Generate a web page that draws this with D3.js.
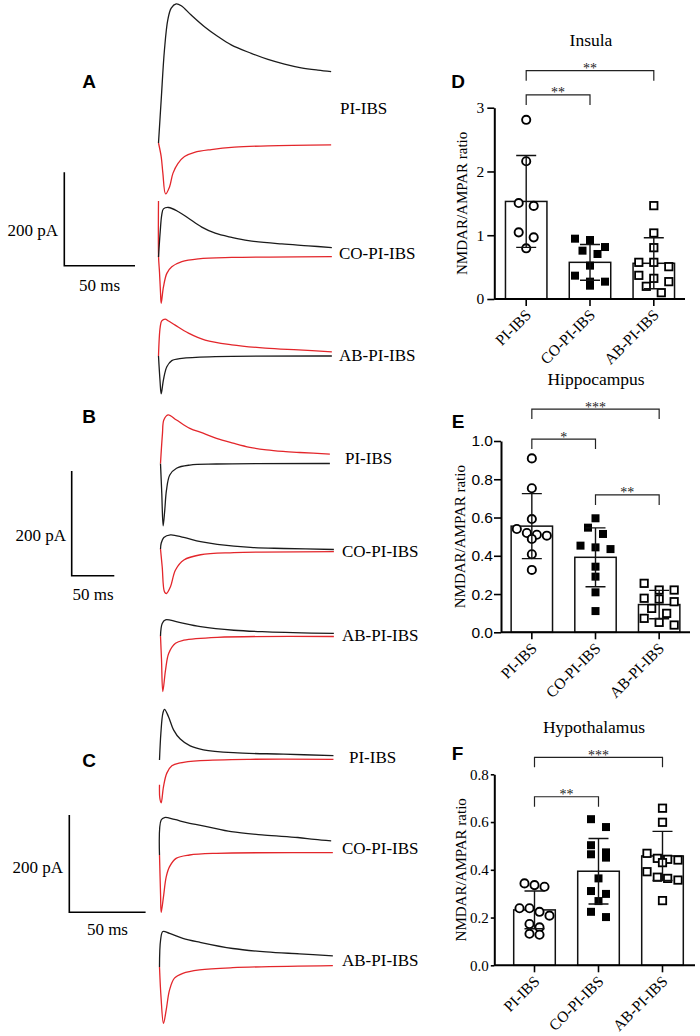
<!DOCTYPE html>
<html lang="en">

<head>
    <meta charset="utf-8" />
    <title>NMDAR/AMPAR ratio</title>
    <script src="https://d3js.org/d3.v7.min.js"></script>
    <style>
        body {
            margin: 0;
            background: #fff;
        }

        .letter {
            font-family: "Liberation Sans", Arial, sans-serif;
            font-weight: bold;
            font-size: 19px;
        }
    </style>
</head>

<body>
    <script>
        // ---------- data ----------
        const groups = ["PI-IBS", "CO-PI-IBS", "AB-PI-IBS"];

        // traces: [time (ms), current (pA)]
        const piA_up = [[0, 0], [1.9, 92], [4.2, 199], [6.6, 264], [9.0, 289], [12.5, 298], [16.1, 294], [23.1, 274], [32.5, 249], [42, 228], [51.4, 210], [65.6, 192], [77.4, 179], [89.1, 169], [100.9, 161], [112.7, 156], [122.1, 153]];
        const piA_down = [[0, 0], [1.9, -29], [3.1, -65], [5.0, -109], [7.8, -94], [10.2, -65], [13.7, -44], [18.4, -29], [25.5, -20], [37.3, -14], [53.7, -9], [77.4, -6], [122.1, -4]];
        const coA_up = [[0, 0], [1.2, 54], [2.3, 90], [3.5, 103], [7.1, 106], [14.1, 97], [21.2, 83], [30.6, 64], [40.1, 51], [51.8, 42], [63.6, 35], [87.2, 28], [106, 24], [122.6, 20]];
        const coA_down = [[0, 120], [0.05, 0], [0.7, -32], [1.4, -75], [1.9, -99], [3.5, -64], [5.9, -35], [9.4, -21], [16.5, -10], [28.3, -4], [51.8, -1], [122.6, 1]];
        const abA_up = [[0, 0], [1.2, 62], [2.3, 75], [4.7, 79], [7.1, 75], [11.8, 66], [21.2, 49], [33, 34], [51.8, 24], [75.5, 17], [99, 13], [122.6, 9]];
        const abA_down = [[0, 0], [1.1, -54], [1.9, -81], [3.5, -51], [5.9, -23], [9.4, -10], [16.5, -5], [40.1, -1.5], [122.6, 0]];

        const piB_up = [[0, 0], [2.3, 57], [3.9, 83], [8.9, 93], [18.8, 83], [34.4, 67], [50, 58], [65.7, 48], [85.2, 39], [104.8, 31], [124.4, 26], [143.9, 23], [163.5, 21], [198.8, 18]];
        const piB_down = [[0, 0], [1.5, -57], [3.1, -119], [5.0, -89], [7.0, -51], [10.9, -22], [18.8, -9], [34.4, -3], [65.7, -1], [198.8, 0]];
        const coB_up = [[0, 0], [0.8, 11], [3.9, 22], [11.7, 27], [27.4, 22], [47, 14], [66.6, 9], [105.7, 3], [144.8, 1], [203.5, -1]];
        const coB_down = [[0, 0], [2, -34], [4.7, -82], [7, -85], [11.7, -72], [17.6, -40], [27.4, -21], [47, -11], [86.1, -7], [203.5, -5]];
        const abB_up = [[0, 0], [2, 24], [5.9, 31], [19.6, 27], [47, 18], [86.1, 11], [125.3, 8], [203.5, 5]];
        const abB_down = [[0, 0], [1.2, -46], [2.7, -106], [5.9, -65], [9.7, -33], [17.6, -14], [27.4, -8], [66.6, -2.5], [203.5, -1]];

        const piC_up = [[0, 0], [0.9, 55], [2.2, 96], [3.3, 104], [5.9, 89], [9.2, 62], [13.6, 43], [20.1, 29], [28.8, 21], [48.5, 15], [81.3, 12], [114, 9]];
        const piC_down = [[0, -51], [0.2, -78], [1.1, -88], [2.6, -55], [4.8, -27], [8.1, -12], [13.6, -6], [26.7, -1.4], [59.4, 1.4], [114, 1.4]];
        const coC_up = [[0, 0], [1.1, 72], [3.3, 77], [9.8, 73], [18.5, 66], [31.7, 58], [47, 48], [68.8, 41], [90.6, 36], [101.6, 32], [112.5, 29]];
        const coC_down = [[0, 0], [0.7, -82], [1.1, -118], [2.6, -86], [4.4, -45], [6.6, -24], [10.9, -7], [19.7, 0], [37.2, 3.5], [113.6, 4.7]];
        const abC_up = [[0, 0], [0.7, 55], [2.2, 73], [6.6, 69], [15.3, 59], [26.2, 51], [48, 38], [69.9, 31], [91.7, 27], [113.6, 23]];
        const abC_down = [[0, 0], [1, -62], [2.6, -116], [4.4, -88], [6.6, -47], [9.8, -23], [15.3, -13], [26.2, -6], [48, -1.4], [113.6, 2.7]];

        // NMDAR/AMPAR ratio, individual cells
        const insulaPI = [2.81, 2.16, 1.505, 1.46, 1.045, 0.967, 0.795];
        const insulaCO = [0.946, 0.925, 0.815, 0.758, 0.706, 0.523, 0.366, 0.272, 0.272, 0.209];
        const insulaAB = [1.464, 1.035, 0.805, 0.575, 0.575, 0.507, 0.371, 0.324, 0.272, 0.199, 0.099];
        const insulaMean = [1.53, 0.575, 0.56];
        const insulaSD = [0.72, 0.28, 0.40];

        const hippoPI = [0.909, 0.753, 0.592, 0.540, 0.519, 0.510, 0.505, 0.488, 0.408, 0.326];
        const hippoCO = [0.596, 0.547, 0.514, 0.453, 0.444, 0.435, 0.343, 0.291, 0.209, 0.111];
        const hippoAB = [0.256, 0.221, 0.221, 0.178, 0.174, 0.160, 0.125, 0.099, 0.073, 0.052, 0.038];
        const hippoMean = [0.555, 0.392, 0.145];
        const hippoSD = [0.17, 0.154, 0.074];

        const hypoPI = [0.343, 0.336, 0.329, 0.239, 0.239, 0.224, 0.208, 0.173, 0.159, 0.132, 0.128];
        const hypoCO = [0.612, 0.579, 0.503, 0.473, 0.465, 0.451, 0.364, 0.311, 0.299, 0.269, 0.224, 0.202];
        const hypoAB = [0.658, 0.599, 0.469, 0.448, 0.444, 0.441, 0.430, 0.392, 0.369, 0.364, 0.357, 0.271];
        const hypoMean = [0.232, 0.394, 0.458];
        const hypoSD = [0.079, 0.137, 0.103];

        // significance brackets: [from group, to group, level, stars]
        const insulaSig = [[0, 2, 3.58, "**"], [0, 1, 3.2, "**"]];
        const hippoSig = [[0, 2, 1.167, "***"], [0, 1, 1.01, "*"], [1, 2, 0.718, "**"]];
        const hypoSig = [[0, 2, 0.871, "***"], [0, 1, 0.706, "**"]];

        // ---------- drawing ----------
        const BLACK = "#1b1b1b";
        const RED = "#e3262b";
        const SERIF = '"Liberation Serif", "Times New Roman", serif';
        const SANS = '"Liberation Sans", Arial, sans-serif';

        const svg = d3.select("body").append("svg")
            .attr("width", 700)
            .attr("height", 1036);

        const line = d3.line().curve(d3.curveCatmullRom.alpha(0.5));

        // layout of the three trace panels
        const tracePanels = [
            {
                letter: "A", lx: 89, ly: 88, x0: 158.5, msLen: 70.7, paLen: 93.4,
                bar: { x: 64.3, y: 265.7, paX: 58, paY: 230, msY: 285 },
                pairs: [
                    { base: 143, up: piA_up, upC: BLACK, down: piA_down, downC: RED, label: groups[0], tx: 340, ty: 108 },
                    { base: 257, up: coA_up, upC: BLACK, down: coA_down, downC: RED, label: groups[1], tx: 339, ty: 253 },
                    { base: 356, up: abA_up, upC: RED, down: abA_down, downC: BLACK, label: groups[2], tx: 339, ty: 355 }
                ]
            },
            {
                letter: "B", lx: 89, ly: 423, x0: 160.5, msLen: 42.6, paLen: 104.7,
                bar: { x: 71.7, y: 575.7, paX: 66, paY: 535, msY: 594 },
                pairs: [
                    { base: 463.5, up: piB_up, upC: RED, down: piB_down, downC: BLACK, label: groups[0], tx: 345, ty: 458 },
                    { base: 549, up: coB_up, upC: BLACK, down: coB_down, downC: RED, label: groups[1], tx: 342, ty: 551 },
                    { base: 636, up: abB_up, upC: BLACK, down: abB_down, downC: RED, label: groups[2], tx: 342, ty: 635 }
                ]
            },
            {
                letter: "C", lx: 89, ly: 767, x0: 159.5, msLen: 76.3, paLen: 97.3,
                bar: { x: 69.3, y: 912.3, paX: 63, paY: 867, msY: 929 },
                pairs: [
                    { base: 760, up: piC_up, upC: BLACK, down: piC_down, downC: RED, label: groups[0], tx: 349, ty: 757 },
                    { base: 855, up: coC_up, upC: BLACK, down: coC_down, downC: RED, label: groups[1], tx: 342, ty: 848 },
                    { base: 967, up: abC_up, upC: BLACK, down: abC_down, downC: RED, label: groups[2], tx: 342, ty: 960 }
                ]
            }
        ];

        tracePanels.forEach((p) => {
            const g = svg.append("g");
            g.append("text").attr("class", "letter")
                .attr("x", p.lx).attr("y", p.ly)
                .attr("text-anchor", "middle")
                .text(p.letter);

            const x = d3.scaleLinear().domain([0, 50]).range([p.x0, p.x0 + p.msLen]);

            p.pairs.forEach((pair) => {
                const y = d3.scaleLinear().domain([0, 200]).range([pair.base, pair.base - p.paLen]);
                line.x((d) => x(d[0])).y((d) => y(d[1]));
                // the downward trace first, the upward one on top
                [[pair.down, pair.downC], [pair.up, pair.upC]].forEach(([data, color]) => {
                    g.append("path")
                        .attr("d", line(data))
                        .attr("fill", "none")
                        .attr("stroke", color)
                        .attr("stroke-width", 1.3)
                        .attr("stroke-linejoin", "round");
                });
                g.append("text")
                    .style("font-family", SERIF)
                    .attr("x", pair.tx).attr("y", pair.ty)
                    .attr("dy", "0.35em")
                    .attr("font-size", 17)
                    .text(pair.label);
            });

            // scale bar: 200 pA / 50 ms
            const sx = d3.scaleLinear().domain([0, 50]).range([p.bar.x, p.bar.x + p.msLen]);
            const sy = d3.scaleLinear().domain([0, 200]).range([p.bar.y, p.bar.y - p.paLen]);
            g.append("path")
                .attr("d", `M${sx(0)},${sy(200)}V${sy(0)}H${sx(50)}`)
                .attr("fill", "none")
                .attr("stroke", "#000")
                .attr("stroke-width", 1.6);
            g.append("text")
                .style("font-family", SERIF)
                .attr("x", p.bar.paX).attr("y", p.bar.paY)
                .attr("dy", "0.35em")
                .attr("text-anchor", "end")
                .attr("font-size", 17)
                .text("200 pA");
            g.append("text")
                .style("font-family", SERIF)
                .attr("x", sx(25)).attr("y", p.bar.msY)
                .attr("dy", "0.35em")
                .attr("text-anchor", "middle")
                .attr("font-size", 17)
                .text("50 ms");
        });

        // split the points of one group into rows and spread each row evenly
        function rowOffsets(vals, y, step, size) {
            const order = d3.range(vals.length).sort((a, b) => vals[b] - vals[a]);
            const off = new Array(vals.length);
            let i = 0;
            while (i < order.length) {
                const row = [order[i]];
                const y0 = y(vals[order[i]]);
                let j = i + 1;
                while (j < order.length && y(vals[order[j]]) - y0 < size) {
                    row.push(order[j]);
                    j++;
                }
                const st = row.length > 1 ? Math.min(step, 31 / (row.length - 1)) : 0;
                row.forEach((k, r) => (off[k] = (r - (row.length - 1) / 2) * st));
                i = j;
            }
            return off;
        }

        function barChart(c) {
            const g = svg.append("g");
            const y = d3.scaleLinear().domain(c.yDomain).range(c.yRange);
            const x = d3.scaleBand().domain(groups).range(c.band).paddingInner(0.35).paddingOuter(0.175);
            const bw = x.bandwidth();
            const cx = (i) => x(groups[i]) + bw / 2;

            g.append("text").attr("class", "letter")
                .attr("x", c.lx).attr("y", c.ly)
                .attr("text-anchor", "middle")
                .text(c.letter);
            g.append("text")
                .style("font-family", SERIF)
                .attr("x", c.titleX).attr("y", c.titleY)
                .attr("text-anchor", "middle")
                .attr("font-size", 17.5)
                .text(c.title);

            // bars
            g.selectAll("rect.bar")
                .data(c.means)
                .join("rect")
                .attr("class", "bar")
                .attr("x", (d, i) => x(groups[i]))
                .attr("y", (d) => y(d))
                .attr("width", bw)
                .attr("height", (d) => y(0) - y(d))
                .attr("fill", "#fff")
                .attr("stroke", "#111")
                .attr("stroke-width", 1.5);

            // individual cells
            c.values.forEach((vals, gi) => {
                const off = rowOffsets(vals, y, gi === 0 ? c.circleStep : c.squareStep, 8.5);
                const pts = vals.map((v, k) => ({ v: v, dx: off[k] }));
                if (gi === 0) {
                    g.selectAll(null).data(pts).join("circle")
                        .attr("cx", (d) => cx(gi) + d.dx)
                        .attr("cy", (d) => y(d.v))
                        .attr("r", 4.1)
                        .attr("fill", "#fff")
                        .attr("stroke", "#000")
                        .attr("stroke-width", 1.9);
                } else {
                    const s = gi === 1 ? 8 : 7.4;
                    g.selectAll(null).data(pts).join("rect")
                        .attr("x", (d) => cx(gi) + d.dx - s / 2)
                        .attr("y", (d) => y(d.v) - s / 2)
                        .attr("width", s)
                        .attr("height", s)
                        .attr("fill", gi === 1 ? "#000" : "#fff")
                        .attr("stroke", "#000")
                        .attr("stroke-width", gi === 1 ? 0 : 1.8);
                }
            });

            // mean +/- SD
            c.means.forEach((m, i) => {
                const sd = c.sds[i];
                g.append("path")
                    .attr("d", `M${cx(i)},${y(m - sd)}V${y(m + sd)}` +
                        `M${cx(i) - 10},${y(m + sd)}h20M${cx(i) - 10},${y(m - sd)}h20`)
                    .attr("fill", "none")
                    .attr("stroke", "#111")
                    .attr("stroke-width", 1.4);
            });

            // y axis
            const ya = g.append("g")
                .attr("transform", `translate(${c.axisX},0)`)
                .call(d3.axisLeft(y).tickValues(c.yTicks).tickFormat(c.fmt)
                    .tickSize(c.tickLen).tickSizeOuter(0).tickPadding(c.tickPad));
            ya.select(".domain").attr("stroke-width", 2);
            ya.selectAll(".tick line").attr("stroke-width", 1.6);
            ya.selectAll("text")
                .style("font-family", c.tickFont)
                .attr("font-size", c.tickSize)
                .attr("fill", "#000");

            // x axis
            const xa = g.append("g")
                .attr("transform", `translate(0,${y(0)})`)
                .call(d3.axisBottom(x).tickSize(7).tickSizeOuter(0));
            xa.select(".domain").remove();
            xa.append("line")
                .attr("x1", c.axisX).attr("x2", c.axisEnd)
                .attr("stroke", "#000").attr("stroke-width", 2);
            xa.selectAll(".tick line").attr("stroke-width", 1.6);
            xa.selectAll("text")
                .style("font-family", SERIF)
                .attr("font-size", 15.5)
                .attr("fill", "#000")
                .attr("text-anchor", "end")
                .attr("x", 0).attr("y", 0).attr("dy", 0)
                .attr("transform", "translate(6,17) rotate(-45)");

            // y axis title
            g.append("text")
                .style("font-family", SERIF)
                .attr("transform", `translate(${c.labelX},${(y.range()[0] + y.range()[1]) / 2}) rotate(-90)`)
                .attr("text-anchor", "middle")
                .attr("dy", "0.35em")
                .attr("font-size", 15)
                .text("NMDAR/AMPAR ratio");

            // significance brackets
            c.sig.forEach(([a, b, lev, stars]) => {
                const yl = y(lev);
                g.append("path")
                    .attr("d", `M${cx(a)},${yl + 10}V${yl}H${cx(b)}V${yl + 10}`)
                    .attr("fill", "none")
                    .attr("stroke", "#222")
                    .attr("stroke-width", 1.2);
                g.append("text")
                    .style("font-family", SERIF)
                    .attr("x", (cx(a) + cx(b)) / 2)
                    .attr("y", yl + 2.5)
                    .attr("text-anchor", "middle")
                    .attr("font-size", 14)
                    .attr("fill", "#222")
                    .text(stars);
            });
        }

        barChart({
            letter: "D", lx: 458, ly: 88, title: "Insula", titleX: 591, titleY: 45.5,
            values: [insulaPI, insulaCO, insulaAB], means: insulaMean, sds: insulaSD, sig: insulaSig,
            yDomain: [0, 3], yRange: [299, 107.7], yTicks: [0, 1, 2, 3], fmt: d3.format("d"),
            tickFont: SERIF, tickSize: 15.5, tickLen: 7, tickPad: 3,
            axisX: 494.3, axisEnd: 685, band: [494.3, 685.7], labelX: 461.5,
            circleStep: 15, squareStep: 15
        });

        barChart({
            letter: "E", lx: 458, ly: 428, title: "Hippocampus", titleX: 596, titleY: 385,
            values: [hippoPI, hippoCO, hippoAB], means: hippoMean, sds: hippoSD, sig: hippoSig,
            yDomain: [0, 1], yRange: [632.3, 441], yTicks: [0, 0.2, 0.4, 0.6, 0.8, 1.0], fmt: d3.format(".1f"),
            tickFont: SANS, tickSize: 15.5, tickLen: 7, tickPad: 1,
            axisX: 501, axisEnd: 690, band: [500, 691], labelX: 460,
            circleStep: 10, squareStep: 15
        });

        barChart({
            letter: "F", lx: 457.5, ly: 760, title: "Hypothalamus", titleX: 594, titleY: 733,
            values: [hypoPI, hypoCO, hypoAB], means: hypoMean, sds: hypoSD, sig: hypoSig,
            yDomain: [0, 0.8], yRange: [965.3, 774.3], yTicks: [0, 0.2, 0.4, 0.6, 0.8], fmt: d3.format(".1f"),
            tickFont: SERIF, tickSize: 15, tickLen: 3.5, tickPad: 2,
            axisX: 494.3, axisEnd: 695, band: [502.5, 694.5], labelX: 461,
            circleStep: 10, squareStep: 15
        });
    </script>
</body>

</html>
